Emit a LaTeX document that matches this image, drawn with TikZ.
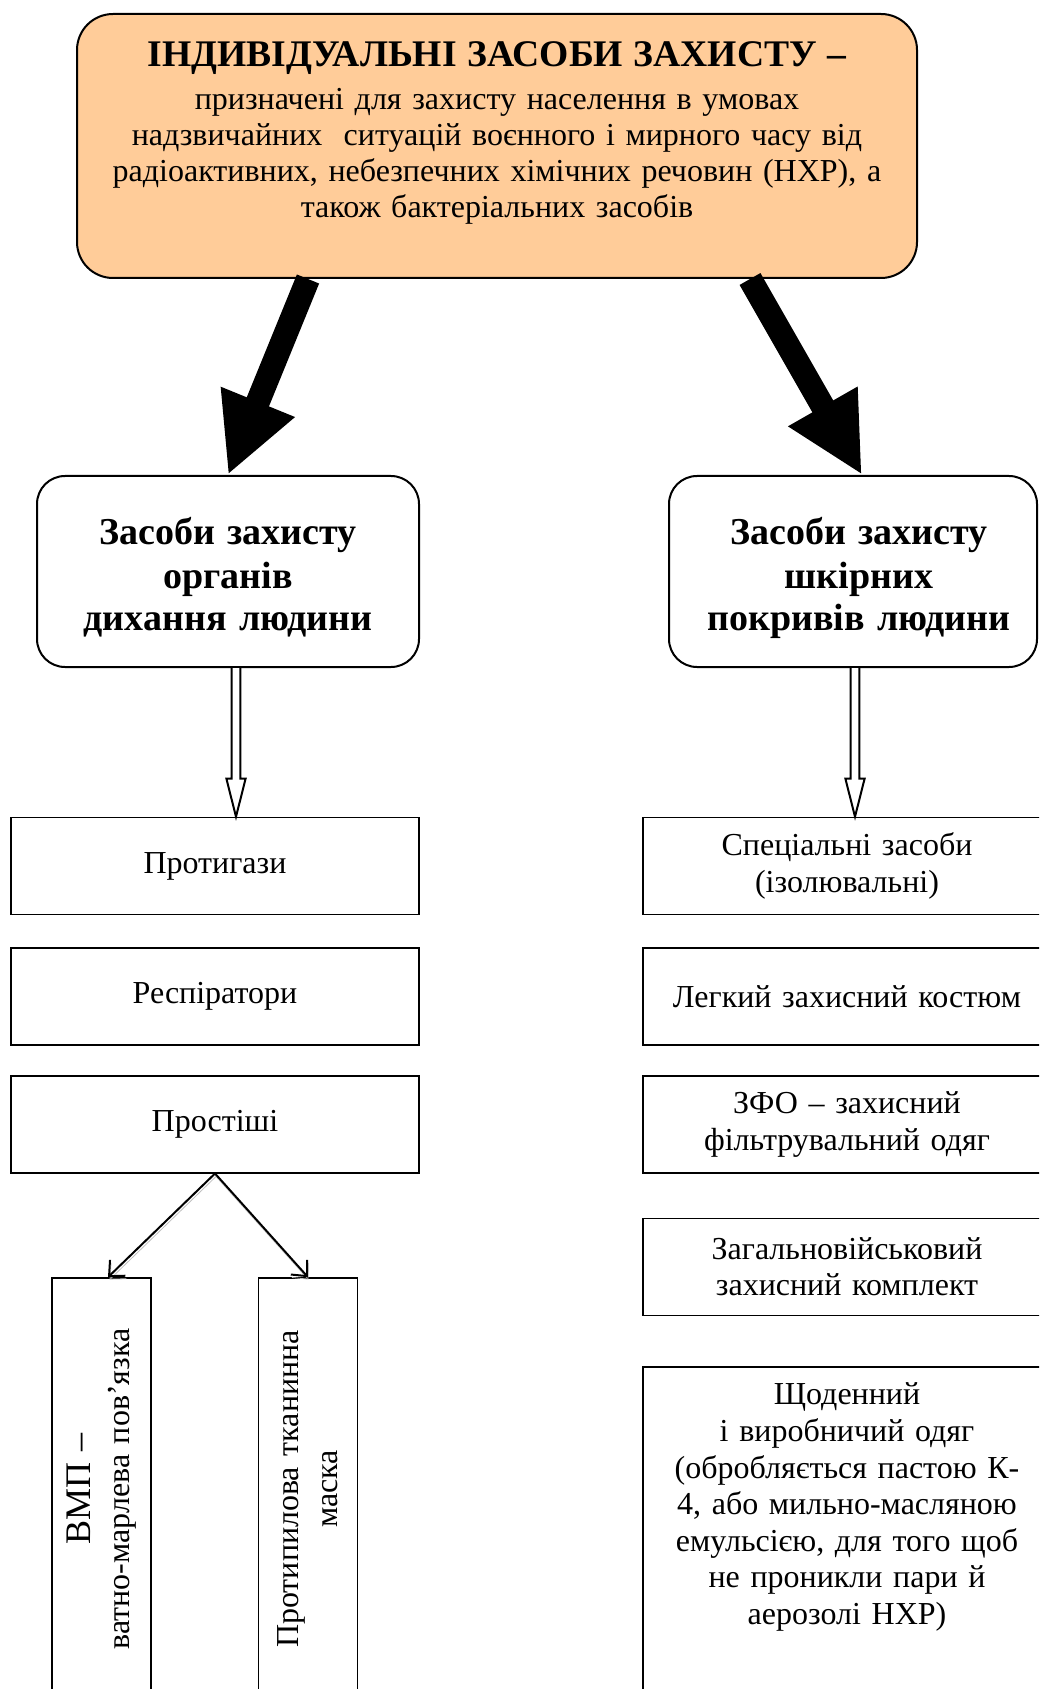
\documentclass[tikz,border=0pt]{standalone}
\usepackage{fontspec}
\setmainfont{Liberation Serif}
\usepackage{tikz}
\usetikzlibrary{arrows.meta,positioning}
\definecolor{peach}{RGB}{255,204,153}

% hollow block arrow from #1 down to #2
\newcommand{\hollowarrow}[2]{%
  \draw[hollow] ([xshift=-2.2pt]#1) -- ([xshift=-2.2pt,yshift=19pt]#2)
    -- ([xshift=-4.8pt,yshift=19pt]#2) -- (#2)
    -- ([xshift=4.8pt,yshift=19pt]#2) -- ([xshift=2.2pt,yshift=19pt]#2)
    -- ([xshift=2.2pt]#1);}

\begin{document}
\begin{tikzpicture}[
    x=0.5pt, y=-0.5pt,
    node distance=16pt and 0pt,
    mainbox/.style={draw,line width=1pt,rounded corners=18pt,fill=peach,
        text width=400pt,inner xsep=10pt,inner ysep=12.5pt,align=center,
        text height=14pt,text depth=93pt,font=\fontsize{16}{18}\selectfont},
    groupbox/.style={draw,line width=1pt,rounded corners=14pt,
        text width=181pt,inner xsep=5pt,inner ysep=4pt,align=center,
        text height=30.5pt,text depth=57pt,
        font=\fontsize{19}{21.5}\selectfont\bfseries},
    item/.style={draw,line width=0.8pt,text width=194pt,inner xsep=5pt,
        minimum height=48.5pt,align=center,
        font=\fontsize{16}{18.3}\selectfont},
    tallbox/.style={draw,line width=0.8pt,rotate=90,minimum width=211pt,
        minimum height=49.5pt,text width=200pt,align=center,
        font=\fontsize{16}{19.5}\selectfont},
    bigarrow/.style={line width=12pt,-{Triangle[width=37pt,length=39.5pt]}},
    hollow/.style={line width=1pt,fill=white,line join=miter},
    thinarrow/.style={line width=1pt,-{Straight Barb[length=6pt,width=11pt]},
        preaction={draw,gray!50,transform canvas={xshift=0.5pt,yshift=-1.5pt}}}
]
\useasboundingbox (0,0) rectangle (1039,1689);
\clip (0,0) rectangle (1039,1689);

\node[mainbox,anchor=north] (top) at (497,13)
    {{\fontsize{18.8}{18}\selectfont\bfseries ІНДИВІДУАЛЬНІ ЗАСОБИ ЗАХИСТУ –}\\[3.5pt]
     призначені для захисту населення в умовах\\
     надзвичайних\ \ ситуацій воєнного і мирного часу від\\
     радіоактивних, небезпечних хімічних речовин (НХР), а\\
     також бактеріальних засобів};

\node[groupbox,anchor=north] (breath) at (228,475)
    {Засоби захисту\\органів\\дихання людини};
\node[groupbox,anchor=north,text width=174pt] (skin) at (853,475)
    {\hspace*{6pt}Засоби захисту\\\hspace*{6pt}шкірних\\\hspace*{6pt}покривів людини};

% left column
\node[item] (gas) at (215,866) {Протигази};
\node[item,below=of gas] (resp) {Респіратори};
\node[item,below=14.5pt of resp] (simple) {Простіші};
\node[tallbox] (vmp) at (101.5,1489)
    {{\fontsize{18}{19.5}\selectfont ВМП –}\\ватно-марлева пов’язка};
\node[tallbox] (mask) at (308,1489)
    {Протипилова тканинна\\маска};

% right column
\node[item] (special) at (847,866) {Спеціальні засоби\\(ізолювальні)};
\node[item,below=of special] (suit) {Легкий захисний костюм};
\node[item,below=14.5pt of suit] (filter) {ЗФО – захисний\\фільтрувальний одяг};
\node[item,below=22pt of filter] (combat) {Загальновійськовий\\захисний комплект};
\node[item,below=25pt of combat,inner ysep=7pt,text height=12pt,text depth=170pt]
    (daily) {Щоденний\\і виробничий одяг\\(обробляється пастою К-\\4, або мильно-масляною\\
     емульсією, для того щоб\\не проникли пари й\\аерозолі НХР)};

\draw[bigarrow] ([xshift=-94.5pt]top.south) -- (breath.north);
\draw[bigarrow] ([xshift=126.5pt]top.south) -- ([xshift=4.5pt]skin.north);

\coordinate (ha) at ([xshift=4pt]breath.south);
\coordinate (hb) at (ha |- gas.north);
\coordinate (hc) at ([xshift=1pt]skin.south);
\coordinate (hd) at (hc |- special.north);
\hollowarrow{ha}{hb}
\hollowarrow{hc}{hd}

\draw[thinarrow] (simple.south) -- ([xshift=3.25pt]vmp.east);
\draw[thinarrow] (simple.south) -- (mask.east);
\end{tikzpicture}
\end{document}
